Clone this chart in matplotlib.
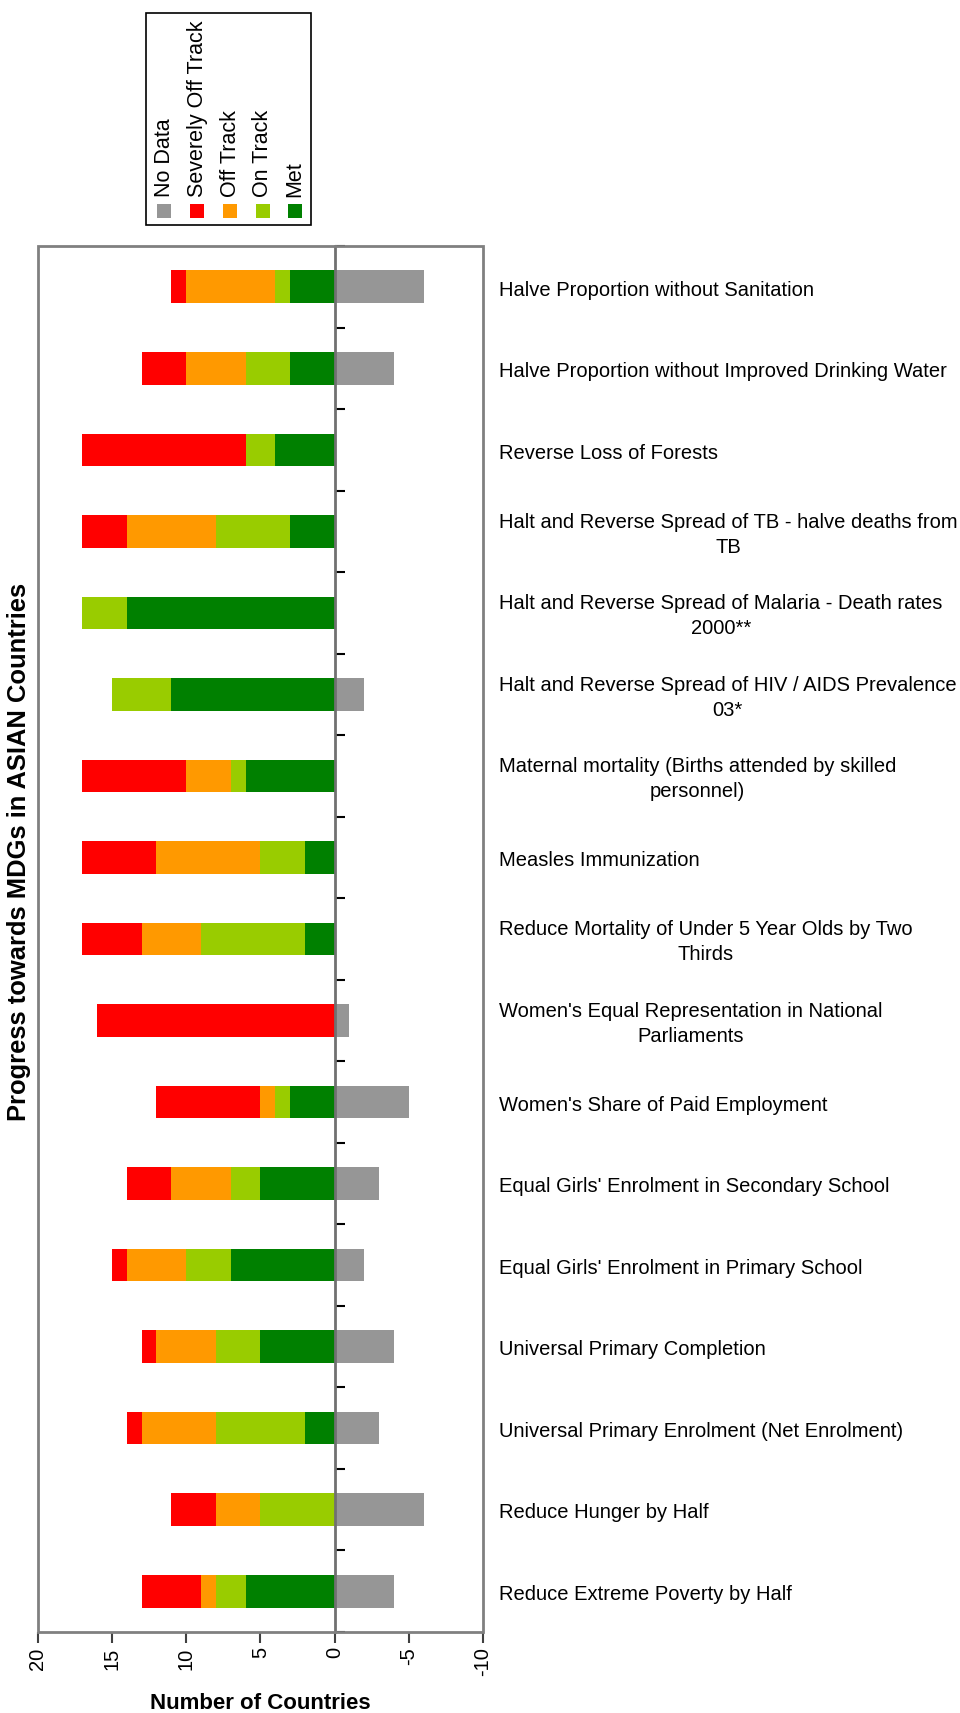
import matplotlib
matplotlib.use("Agg")
import matplotlib.pyplot as plt
from matplotlib.patches import Rectangle
import matplotlib.transforms as mtransforms
import numpy as np

plt.rcParams['font.family'] = ['Liberation Sans', 'DejaVu Sans']

# Categories bottom -> top
categories = [
    "Reduce Extreme Poverty by Half",
    "Reduce Hunger by Half",
    "Universal Primary Enrolment (Net Enrolment)",
    "Universal Primary Completion",
    "Equal Girls' Enrolment in Primary School",
    "Equal Girls' Enrolment in Secondary School",
    "Women's Share of Paid Employment",
    "Women's Equal Representation in National\nParliaments",
    "Reduce Mortality of Under 5 Year Olds by Two\nThirds",
    "Measles Immunization",
    "Maternal mortality (Births attended by skilled\npersonnel)",
    "Halt and Reverse Spread of HIV / AIDS Prevalence\n03*",
    "Halt and Reverse Spread of Malaria - Death rates\n2000**",
    "Halt and Reverse Spread of TB - halve deaths from\nTB",
    "Reverse Loss of Forests",
    "Halve Proportion without Improved Drinking Water",
    "Halve Proportion without Sanitation",
]
met      = [6, 0, 2, 5, 7, 5, 3, 0, 2, 2, 6, 11, 14, 3, 4, 3, 3]
on_track = [2, 5, 6, 3, 3, 2, 1, 0, 7, 3, 1, 4, 3, 5, 2, 3, 1]
off_track= [1, 3, 5, 4, 4, 4, 1, 0, 4, 7, 3, 0, 0, 6, 0, 4, 6]
severely = [4, 3, 1, 1, 1, 3, 7, 16, 4, 5, 7, 0, 0, 3, 11, 3, 1]
no_data  = [4, 6, 3, 4, 2, 3, 5, 1, 0, 0, 0, 2, 0, 0, 0, 4, 6]

series_names = ["No Data", "Severely Off Track", "Off Track", "On Track", "Met"]
colors = {"Met": "#008000", "On Track": "#99CC00", "Off Track": "#FF9900",
          "Severely Off Track": "#FF0000", "No Data": "#969696"}

W, H = 960, 1713
fig = plt.figure(figsize=(W/100, H/100), dpi=100)
x0, x1 = 37.7, 483
y0, y1 = 246, 1632
ax = fig.add_axes([x0/W, 1 - y1/H, (x1 - x0)/W, (y1 - y0)/H])

y = np.arange(len(categories))
bh = 0.4
left = np.zeros(len(categories))
for name, vals in [("Met", met), ("On Track", on_track), ("Off Track", off_track),
                   ("Severely Off Track", severely)]:
    v = np.array(vals, dtype=float)
    ax.barh(y, v, left=left, height=bh, color=colors[name], edgecolor='none', zorder=2)
    left += v
ax.barh(y, -np.array(no_data, dtype=float), height=bh, color=colors["No Data"],
        edgecolor='none', zorder=2)

ax.set_xlim(20, -10)
ax.set_ylim(-0.5, len(categories) - 0.5)
ax.set_xticks([20, 15, 10, 5, 0, -5, -10])
ax.set_xticklabels(["20", "15", "10", "5", "0", "-5", "-10"], rotation=90, fontsize=14.5)
ax.tick_params(axis='x', direction='out', length=8, width=1.5, color='#404040', pad=3)

# y axis at x = 0 with ticks between categories
for s in ['top', 'right', 'bottom']:
    ax.spines[s].set_visible(False)
ax.spines['left'].set_position(('data', 0))
ax.spines['left'].set_color('#707070')
ax.spines['left'].set_linewidth(2)
ax.spines['left'].set_zorder(3)
ax.set_yticks(np.arange(len(categories) + 1) - 0.5)
ax.set_yticklabels([])
ax.tick_params(axis='y', direction='in', length=7, width=1.5, color='black')

ax.add_patch(Rectangle((0, 0), 1, 1, transform=ax.transAxes, fill=False,
                       edgecolor='#808080', linewidth=2, zorder=4, clip_on=False))

trans = mtransforms.blended_transform_factory(ax.transAxes, ax.transData)
lx = (499 - x0) / (x1 - x0)
for yi, lab in zip(y, categories):
    ax.text(lx, yi - 0.04, lab, transform=trans, ha='left', va='center',
            multialignment='center', fontsize=14.5, linespacing=1.4)

ax.set_xlabel("Number of Countries", fontsize=16, fontweight='bold', labelpad=12)
fig.text(18.6/W, 1 - 852/H, "Progress towards MDGs in ASIAN Countries", rotation=90,
         ha='center', va='center', fontsize=18.4, fontweight='bold')

# Legend (rotated), drawn in figure pixel space
fig.add_artist(Rectangle((146/W, 1 - 225/H), (311 - 146)/W, (225 - 13)/H,
                         transform=fig.transFigure, fill=False, edgecolor='black',
                         linewidth=1.2))
lx_centers = [164, 197, 230, 263, 295]
for cx, name in zip(lx_centers, series_names):
    fig.add_artist(Rectangle(((cx - 7)/W, 1 - 218/H), 14/W, 14/H,
                             transform=fig.transFigure, facecolor=colors[name],
                             edgecolor='none'))
    fig.text(cx/W, 1 - 197/H, name, rotation=90, ha='center', va='bottom',
             fontsize=15.5)

fig.savefig("out.png", dpi=100)
